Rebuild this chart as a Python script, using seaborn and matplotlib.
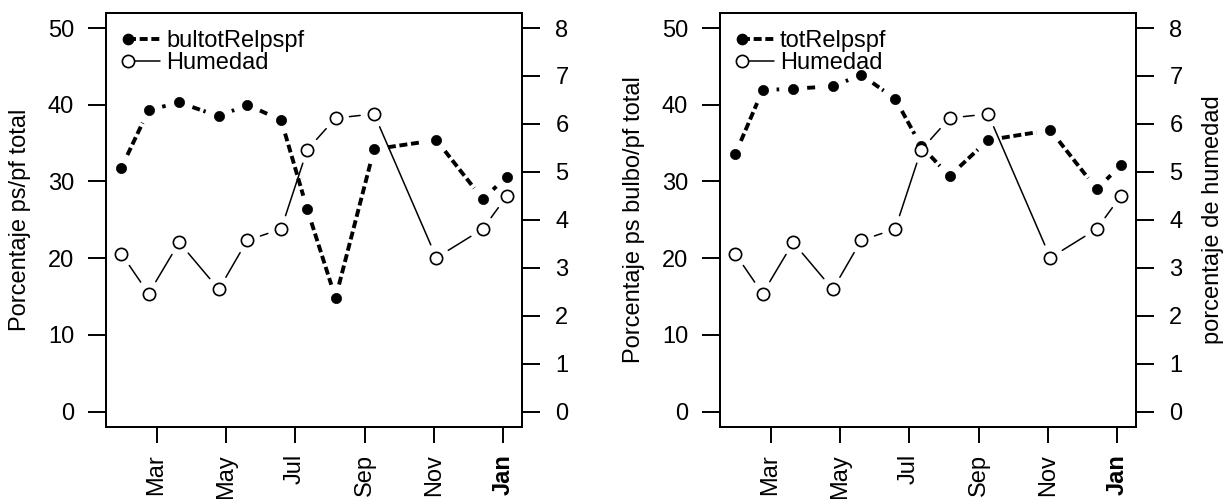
import numpy as np
import pandas as pd
import matplotlib
matplotlib.use("Agg")
import matplotlib.pyplot as plt
import matplotlib.dates as mdates
from matplotlib.lines import Line2D
from matplotlib.legend_handler import HandlerLine2D
import seaborn as sns

# ---------------- data ----------------
dates = ['2011-01-29', '2011-02-22', '2011-03-21', '2011-04-25', '2011-05-20',
         '2011-06-19', '2011-07-12', '2011-08-06', '2011-09-09', '2011-11-03',
         '2011-12-14', '2012-01-04']
bultotRelpspf = [31.8, 39.3, 40.3, 38.5, 40.0, 38.0, 26.4, 14.8, 34.2, 35.4, 27.7, 30.6]
totRelpspf = [33.6, 41.9, 42.1, 42.4, 43.9, 40.8, 34.6, 30.7, 35.4, 36.7, 29.0, 32.1]
humedad = [3.29, 2.46, 3.53, 2.55, 3.57, 3.81, 5.46, 6.12, 6.21, 3.21, 3.81, 4.49]

month_ticks = ['2011-03-01', '2011-05-01', '2011-07-01', '2011-09-01',
               '2011-11-01', '2012-01-01']
month_labels = ['Mar', 'May', 'Jul', 'Sep', 'Nov', 'Jan']
left_ticks = [0, 10, 20, 30, 40, 50]
right_ticks = [0, 1, 2, 3, 4, 5, 6, 7, 8]

panels = [
    dict(series=bultotRelpspf, name='bultotRelpspf', ylabel='Porcentaje ps/pf total',
         rlabel=None),
    dict(series=totRelpspf, name='totRelpspf', ylabel='Porcentaje ps bulbo/pf total',
         rlabel='porcentaje de humedad'),
]

# ---------------- style ----------------
sns.set_theme(style='ticks')
plt.rcParams['font.family'] = ['Liberation Sans', 'DejaVu Sans']
FS = 17
plt.rcParams['font.size'] = FS
plt.rcParams['axes.linewidth'] = 1.4
plt.rcParams['text.color'] = 'black'
plt.rcParams['axes.labelcolor'] = 'black'

W, H, DPI = 1231, 499, 100
fig = plt.figure(figsize=(W / DPI, H / DPI), dpi=DPI)
fig.patch.set_facecolor('white')

boxes = [(106, 416), (720, 416)]
bottom_px, top_px = 72, 12.7
height_px = H - bottom_px - top_px

xnum = mdates.date2num(pd.to_datetime(dates))
pad = 0.04 * (xnum.max() - xnum.min())
xlim = (xnum.min() - pad, xnum.max() + pad)

DASH_LW = 2.8
DASHES = (2.05, 0.95)
GAP_PX = 14


def gapped(ax, x, y, **kw):
    pts = ax.transData.transform(np.column_stack([x, y]))
    inv = ax.transData.inverted()
    for p, q in zip(pts[:-1], pts[1:]):
        d = q - p
        L = np.hypot(*d)
        if L <= 2 * GAP_PX:
            continue
        u = d / L
        seg = inv.transform(np.array([p + u * GAP_PX, q - u * GAP_PX]))
        ax.plot(seg[:, 0], seg[:, 1], **kw)


class LeftMarker(HandlerLine2D):
    def create_artists(self, legend, orig_handle, xdescent, ydescent, width,
                       height, fontsize, trans):
        y = (height - ydescent) / 2.0
        x0 = -xdescent
        line = Line2D([x0, x0 + width], [y, y])
        self.update_prop(line, orig_handle, legend)
        line.set_marker('None')
        mk = Line2D([x0], [y])
        self.update_prop(mk, orig_handle, legend)
        mk.set_linestyle('None')
        line.set_transform(trans)
        mk.set_transform(trans)
        return [line, mk]


for (left_px, width_px), cfg in zip(boxes, panels):
    ax = fig.add_axes([left_px / W, bottom_px / H, width_px / W, height_px / H])
    ax2 = ax.twinx()
    ax.set_xlim(*xlim)
    ax.set_ylim(-2, 52)
    ax2.set_ylim(-2 * 8 / 50, 52 * 8 / 50)
    ax.set_facecolor('white')

    # main series: thick dashed with gaps + filled dots
    gapped(ax, xnum, cfg['series'], color='black', lw=DASH_LW,
           dashes=DASHES, dash_capstyle='butt', solid_capstyle='butt')
    sns.scatterplot(x=xnum, y=cfg['series'], ax=ax, color='black', s=54,
                    edgecolor='black', linewidth=0.5, zorder=3, legend=False)

    # humidity: thin solid with gaps + open circles
    gapped(ax2, xnum, humedad, color='black', lw=1.1)
    sns.scatterplot(x=xnum, y=humedad, ax=ax2, facecolor='white', s=78,
                    edgecolor='black', linewidth=1.2, zorder=3, legend=False)

    for a in (ax, ax2):
        for sp in a.spines.values():
            sp.set_visible(True)
            sp.set_color('black')
            sp.set_linewidth(1.4)
        a.grid(False)

    ax.set_yticks(left_ticks)
    ax.set_yticklabels([str(t) for t in left_ticks])
    ax2.set_yticks(right_ticks)
    ax2.set_yticklabels([str(t) for t in right_ticks])
    ax.set_xticks(mdates.date2num(pd.to_datetime(month_ticks)))
    ax.set_xticklabels(month_labels, rotation=90)
    for lab in ax.get_xticklabels():
        if lab.get_text() == 'Jan':
            lab.set_fontweight('bold')

    ax.tick_params(axis='y', direction='out', length=13, width=1.4, pad=10,
                   labelsize=FS, colors='black')
    ax2.tick_params(axis='y', direction='out', length=13, width=1.4, pad=11,
                    labelsize=FS, colors='black')
    ax.tick_params(axis='x', direction='out', length=11.5, width=1.4, pad=8,
                   labelsize=FS, colors='black')

    ax.set_ylabel(cfg['ylabel'], fontsize=FS, labelpad=12, color='black')
    if cfg['rlabel']:
        ax2.set_ylabel(cfg['rlabel'], fontsize=FS, labelpad=14, color='black')

    handles = [
        Line2D([], [], color='black', lw=DASH_LW, dashes=DASHES,
               dash_capstyle='butt', marker='o', markersize=7.4,
               markerfacecolor='black', markeredgecolor='black',
               label=cfg['name']),
        Line2D([], [], color='black', lw=1.1, marker='o', markersize=8.8,
               markerfacecolor='white', markeredgecolor='black',
               markeredgewidth=1.2, label='Humedad'),
    ]
    leg = ax2.legend(handles=handles, handler_map={Line2D: LeftMarker()},
                     loc='upper left', bbox_to_anchor=(22 / width_px, 0.958),
                     frameon=False, borderpad=0, borderaxespad=0,
                     handlelength=1.36, handletextpad=0.25,
                     labelspacing=0.0, fontsize=FS, labelcolor='black')

fig.savefig('out.png', dpi=DPI, facecolor='white')
